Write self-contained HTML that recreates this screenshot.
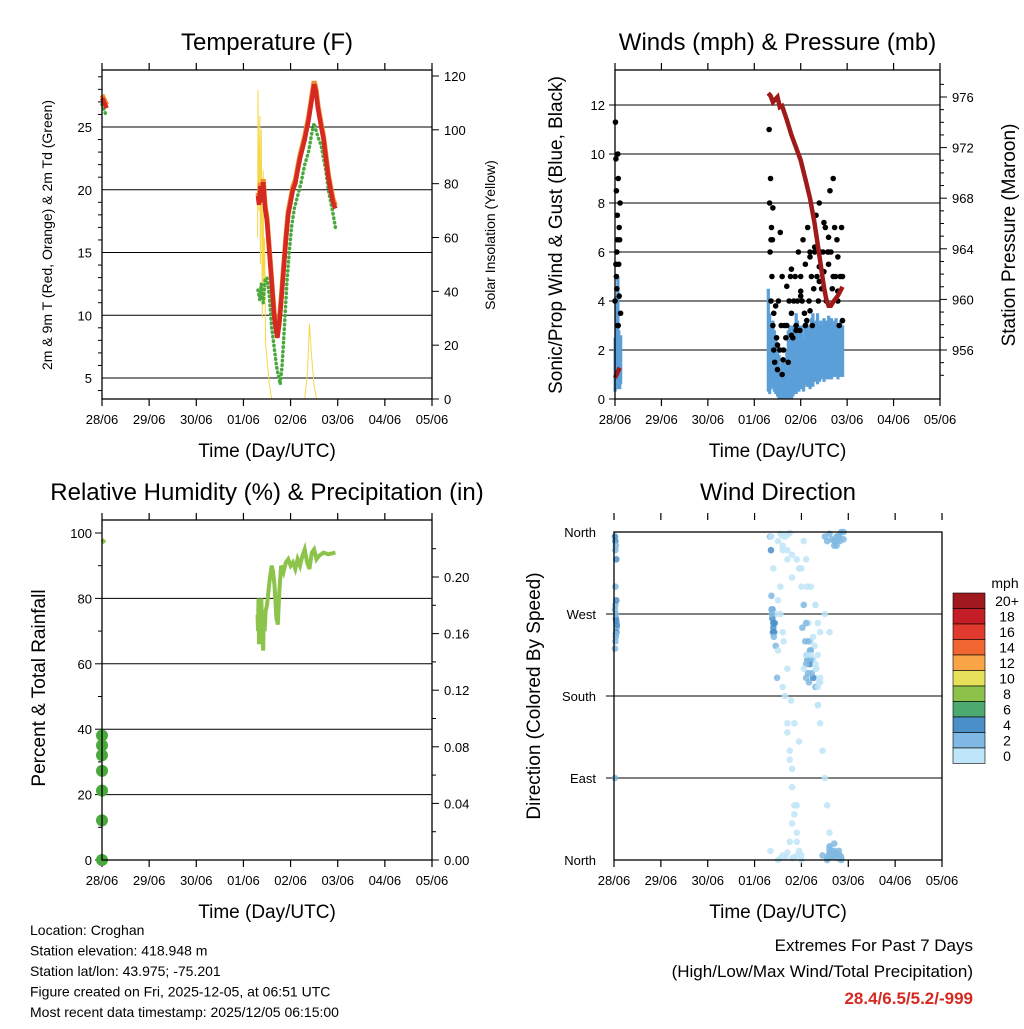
<!DOCTYPE html>
<html><head><meta charset="utf-8">
<style>
body{margin:0;background:#fff;font-family:"Liberation Sans",sans-serif;}
svg text{font-family:"Liberation Sans",sans-serif;fill:#000;}
</style></head>
<body>
<svg id="c" width="1024" height="1024" viewBox="0 0 1024 1024">
<rect width="1024" height="1024" fill="#fff"/>
</svg>
<script>
// ---- Temperature panel data (t = days since 28/06 00Z) ----
const tempT=[0,0.05,0.1,null,3.31,3.33,3.36,3.39,3.42,3.46,3.5,3.54,3.58,3.62,3.65,3.69,3.72,3.76,3.8,3.85,3.9,3.95,4.0,4.05,4.1,4.15,4.2,4.3,4.38,4.45,4.5,4.54,4.58,4.65,4.7,4.75,4.8,4.85,4.9,4.95];
const tempV=[27.3,26.9,26.5,null,19.5,18.8,20.3,19,20.6,18.5,17.5,15.5,13.5,11.5,10,8.8,8.2,9.3,11,13.5,16,18,19,20,20.5,21.5,22.5,24,25.5,27.2,28.4,27.8,26.5,25,24,22.5,21,20,19,18.5];
const tdT=[0,0.05,0.1,null,3.31,3.35,3.38,3.42,3.46,3.5,3.55,3.6,3.65,3.7,3.75,3.78,3.82,3.87,3.92,3.97,4.02,4.08,4.15,4.22,4.3,4.38,4.45,4.5,4.55,4.6,4.65,4.7,4.75,4.8,4.88,4.95];
const tdV=[26.8,26.3,25.8,null,12,11.2,12.5,11,12.8,13,11.5,9,7.5,6,5,4.5,6,9,12.5,15,17,18.5,19.5,20.5,22,23,24.5,25.3,24.6,24,23.5,22.5,21.5,20,18.5,17];
const solT=[3.3,3.31,3.33,3.35,3.36,3.38,3.4,3.42,3.43,3.45,3.47,3.5,3.55,3.6,null,4.3,4.36,4.4,4.45,4.5,4.55];
const solV=[60,115,70,105,50,100,30,85,40,60,20,15,5,0,null,0,10,28,15,5,0];
// ---- Winds panel ----
const presT=[0,0.05,0.1,null,3.3,3.35,3.4,3.45,3.5,3.55,3.6,3.7,3.8,3.9,4.0,4.1,4.2,4.3,4.4,4.5,4.55,4.6,4.65,4.7,4.8,4.9];
const presV=[953.8,954.2,954.6,null,976.3,976.1,975.6,975.8,976,975.2,975.3,974.2,973,972,971,969.5,968,966,963.5,961,960,959.5,959.5,959.8,960.3,961];
const gustT=[0,0.01,0.02,0.03,0.04,0.05,0.06,0.07,0.08,0.09,0.1,0.11,0.12,0.03,0.05,0.07,0.09,0.02,0.04,0.06,3.32,3.33,3.34,3.35,3.36,3.37,3.38,3.39,3.4,3.42,3.44,3.46,3.48,3.5,3.52,3.55,3.58,3.6,3.63,3.65,3.68,3.7,3.73,3.75,3.78,3.8,3.83,3.85,3.88,3.9,3.93,3.95,3.98,4.0,4.03,4.05,4.08,4.1,4.13,4.15,4.18,4.2,4.23,4.25,4.28,4.3,4.33,4.35,4.38,4.4,4.43,4.45,4.48,4.5,4.53,4.55,4.58,4.6,4.63,4.65,4.68,4.7,4.73,4.75,4.78,4.8,4.83,4.85,4.88,4.9,3.36,3.42,3.5,3.56,3.62,3.7,3.8,3.9,4.0,4.1,4.2,4.3,4.4,4.5,4.6,4.7,4.8,4.9,3.4,3.6,3.8,4.0,4.2,4.4,4.6,4.8];
const gustV=[4,11.3,9.8,8.5,6,7.5,10,3,5.5,4.2,6.5,8,3.5,5,6.5,9,7,5.5,4.5,3,11,8,6,9,4,7,5,6.5,3,2,1.5,3.8,2.5,1.2,4,2,3,1,2,3,2.5,3,1.5,4,5,3.5,2.5,4,5,3,4,6,2.8,5,4,6.5,3.5,5.5,3.2,7,4,6,5,3,4.5,6,7.5,5,4,8,6,4.5,6,5.2,7,4,6,5.5,8.5,6,4.5,9,7,5,6.5,4,3,5,7,5,6.5,3.5,2.2,6.8,1.6,4.6,5.3,2.8,4.2,3,5.8,6.2,4.8,7.2,6,5,4.4,3.2,7.8,5,2.6,4.4,3.6,5.4,6.6,5.8];
const sonT=[0,0.02,0.04,0.06,0.08,0.1,0.12,3.3,3.33,3.36,3.4,3.43,3.46,3.5,3.53,3.56,3.6,3.63,3.66,3.7,3.73,3.76,3.8,3.83,3.86,3.9,3.93,3.96,4.0,4.03,4.06,4.1,4.13,4.16,4.2,4.23,4.26,4.3,4.33,4.36,4.4,4.43,4.46,4.5,4.53,4.56,4.6,4.63,4.66,4.7,4.73,4.76,4.8,4.83,4.86,4.9];
const sonLo=[0.3,0.5,0.4,0.6,0.5,0.4,0.6,0.3,0.2,0.4,0.5,0.3,0.2,0.1,0,0,0,0,0,0,0,0,0,0.1,0.2,0.2,0.3,0.3,0.4,0.5,0.3,0.6,0.5,0.5,0.4,0.6,0.5,0.7,0.8,0.6,0.7,0.8,0.9,0.7,0.8,0.9,0.8,0.9,0.8,0.9,1,0.9,0.8,0.9,1,0.9];
const sonHi=[2.5,4.2,3,5,2.8,2.2,2.6,4.5,3.5,3,3.2,2.8,2.5,2.2,1.8,1.2,1.5,1.5,1.4,2,2.8,3,2.6,3,2.5,3.5,3.2,3,2.8,3,2.5,3,3.2,2.8,3,3.3,3.5,3,3.2,3.5,3,3.2,3,3.3,3,3.2,3.4,3.1,3.3,3,3.2,3.3,3.1,3,3.2,3];
// ---- RH panel ----
const rhT=[0,0.03,0.06,null,3.3,3.31,3.32,3.33,3.34,3.35,3.36,3.38,3.4,3.42,3.43,3.45,3.47,3.5,3.53,3.56,3.6,3.63,3.66,3.7,3.73,3.76,3.8,3.85,3.9,3.95,4.0,4.05,4.1,4.15,4.2,4.25,4.3,4.35,4.4,4.45,4.5,4.55,4.6,4.7,4.8,4.95];
const rhV=[98,97.5,97,null,75,70,80,66,78,72,68,80,70,64,74,70,76,78,82,86,90,88,84,74,72,82,90,88,91,92,90,91,89,92,90,93,95,91,89,94,95,92,93,94,93.5,94];
const rainV=[0,0.028,0.049,0.063,0.074,0.081,0.088];
// ---- Wind direction panel ----
const dirT=[0.02,0.03,0.04,0.05,0.03,0.02,0.04,0.06,0.05,0.03,0.02,0.04,0.02,0.03,0.05,0.06,0.04,0.03,0.05,0.04,
3.33,3.35,3.36,3.38,3.4,3.42,3.45,3.48,3.5,3.55,3.6,3.65,3.7,3.75,3.8,3.85,3.9,3.95,4.0,4.05,4.1,4.12,4.15,4.2,4.25,4.3,4.35,
3.34,3.36,3.4,3.45,3.5,3.6,3.7,3.75,3.8,3.85,3.9,4.0,4.05,4.1,4.15,4.2,4.25,4.3,4.35,4.4,4.45,4.5,4.55,4.6,4.65,4.7,4.75,4.8,4.82,4.9,4.45,4.55,4.6,4.7,4.75,4.85,4.5,4.6,
3.36,3.38,3.4,3.37,3.39,3.41,3.43,3.5,3.55,3.62,3.7,3.78,3.85,3.95,4.02,4.08,4.12,4.18,4.22,4.28,4.32,4.38,4.1,4.15,4.2,4.25,4.3,4.35,4.4,4.1,4.12,4.14,4.16,4.18,4.05,4.1,
3.55,3.6,3.65,3.7,3.75,3.8,3.85,3.9,3.6,3.7,3.8,3.9,4.0,4.2,4.3,4.35,4.4,4.2,4.3,4.4,
4.5,4.55,4.6,4.65,4.7,4.75,4.8,4.85,4.9,4.58,4.62,4.68,4.72,4.78,4.84,4.6,4.7,4.8,4.55,4.65,4.75,4.85,4.6,4.7,4.8,
3.5,3.55,3.6,3.65,3.7,3.75,3.8,3.9,3.6,3.7,3.8,3.95,4.0,4.3,4.35];
const dirD=[355,350,345,330,280,275,265,255,250,240,232,248,90,300,262,258,270,340,285,245,
355,340,290,275,260,250,235,200,350,300,250,180,150,120,100,60,30,10,5,350,330,300,260,240,220,200,170,
10,355,320,270,230,190,140,110,80,50,20,0,280,260,240,220,200,190,170,150,120,90,60,30,10,5,345,355,350,360,5,2,8,350,355,0,270,250,
275,265,255,270,250,245,260,285,270,240,210,175,150,130,255,240,225,215,205,235,210,195,200,220,230,245,210,225,200,215,220,205,195,230,210,225,
358,356,355,357,359,2,3,5,345,340,335,330,320,300,280,260,250,225,215,195,
355,350,358,352,345,350,356,360,352,5,8,3,6,2,4,12,10,6,0,3,8,2,15,18,10,
0,2,5,3,8,20,40,60,340,330,310,320,300,280,190];
const dirS=[4,5,3,4,3,2,4,3,4,3,2,3,2,3,4,5,3,3,4,2,
3,4,3,4,5,4,3,2,1,1,1,1,1,1,1,1,1,1,1,1,1,1,1,1,1,1,1,
1,1,1,1,1,1,1,1,1,1,1,1,2,3,3,3,4,2,1,1,1,1,1,1,1,3,3,3,3,3,3,3,3,3,3,3,1,1,
3,4,4,3,5,3,4,1,1,1,1,1,1,1,3,3,3,4,3,1,1,1,3,3,2,1,1,1,1,3,3,3,2,3,1,1,
1,1,1,1,1,1,1,1,1,1,1,1,1,1,1,1,1,1,1,1,
3,3,3,3,3,3,3,3,3,3,3,3,3,3,3,3,3,3,3,3,3,3,3,3,3,
1,1,1,1,1,1,1,1,1,1,1,1,1,1,1];
const xLabels=["28/06","29/06","30/06","01/06","02/06","03/06","04/06","05/06"];
const cbColors=["#a0191e","#c41d26","#e03a2f","#f06530","#f9a445","#e7e05a","#8cc14a","#4caa6e","#4a8fc8","#7fb8e2","#bfe5f8"];
const cbLabels=["20+","18","16","14","12","10","8","6","4","2","0"];

const S=document.getElementById('c');const NS="http://www.w3.org/2000/svg";
function el(tag,a,parent){const e=document.createElementNS(NS,tag);for(const k in a)e.setAttribute(k,a[k]);(parent||S).appendChild(e);return e;}
function txt(x,y,s,size,anchor,rot,extra){const t=el('text',Object.assign({x:x,y:y,'font-size':size,'text-anchor':anchor||'middle'},extra||{}));if(rot)t.setAttribute('transform','rotate(-90 '+x+' '+y+')');t.textContent=s;return t;}
function lin(d0,d1,p0,p1){return v=>p0+(v-d0)*(p1-p0)/(d1-d0);}
function pathFrom(T,V,fx,fy){let d="",m=true;for(let i=0;i<T.length;i++){if(T[i]===null){m=true;continue;}d+=(m?"M":"L")+fx(T[i]).toFixed(1)+","+fy(V[i]).toFixed(1);m=false;}return d;}

function frame(g,x0,x1,y0,y1,title,xt,yt,fx){
  const t=txt((x0+x1)/2,y0-20,title,24);
  for(let i=0;i<8;i++){const x=fx(i);el('line',{x1:x,x2:x,y1:y1,y2:y1+7,stroke:'#000','stroke-width':1.2},g);el('line',{x1:x,x2:x,y1:y0,y2:y0-7,stroke:'#000','stroke-width':1.2},g);
    const l=txt(x,y1+25,xLabels[i],13,'middle',0,{});}
  const a=txt((x0+x1)/2,y1+58,xt,19);
}
function box(g,x0,x1,y0,y1){el('rect',{x:x0,y:y0,width:x1-x0,height:y1-y0,fill:'none',stroke:'#000','stroke-width':1.3},g);}

// ===== Panel 1: Temperature =====
(function(){
const g=el('g',{});
const x0=102,x1=432,y0=70,y1=399;const fx=lin(0,7,x0,x1),fy=lin(5,25,378,127),fs=lin(0,120,399,76);
[5,10,15,20,25].forEach(v=>{el('line',{x1:x0,x2:x1,y1:fy(v),y2:fy(v),stroke:'#000','stroke-width':1},g);txt(x0-10,fy(v)+5,String(v),13,'end');});
for(let v=4;v<=29;v++){if(v%5)el('line',{x1:x0,x2:x0-4,y1:fy(v),y2:fy(v),stroke:'#000'},g);}
[0,20,40,60,80,100,120].forEach(v=>{el('line',{x1:x1,x2:x1+7,y1:fs(v),y2:fs(v),stroke:'#000'},g);txt(x1+12,fs(v)+5,String(v),13,'start');});
frame(g,x0,x1,y0,y1,'Temperature (F)','Time (Day/UTC)','',fx);
const yl=txt(52,235,'2m & 9m T (Red, Orange) & 2m Td (Green)',14,'middle',1);
const yr=txt(495,235,'Solar Insolation (Yellow)',14,'middle',1);
const sp=el('path',{d:pathFrom(solT,solV,fx,fs),fill:'none',stroke:'#f5d84a','stroke-width':1},g);
const tdp=el('path',{d:pathFrom(tdT,tdV,fx,fy),fill:'none',stroke:'#4aa83e','stroke-width':3.5,'stroke-dasharray':'0.5 4','stroke-linecap':'round'},g);
const op=el('path',{d:pathFrom(tempT,tempV.map(v=>v===null?null:v+0.25),fx,fy),fill:'none',stroke:'#f28a30','stroke-width':5},g);
const tp=el('path',{d:pathFrom(tempT,tempV,fx,fy),fill:'none',stroke:'#d42a22','stroke-width':4.5},g);
box(g,x0,x1,y0,y1);
})();

// ===== Panel 2: Winds =====
(function(){
const g=el('g',{});
const x0=615,x1=940,y0=70,y1=399;const fx=lin(0,7,x0,x1),fy=lin(0,12,399,105),fp=lin(956,976,350,97);
[2,4,6,8,10,12].forEach(v=>el('line',{x1:x0,x2:x1,y1:fy(v),y2:fy(v),stroke:'#000'},g));
[0,2,4,6,8,10,12].forEach(v=>{el('line',{x1:x0,x2:x0-6,y1:fy(v),y2:fy(v),stroke:'#000'},g);txt(x0-10,fy(v)+5,String(v),13,'end');});
for(let v=954;v<=977;v++){el('line',{x1:x1,x2:x1+(v%4?4:7),y1:fp(v),y2:fp(v),stroke:'#000'},g);if(v%4==0)txt(x1+12,fp(v)+5,String(v),13,'start');}
frame(g,x0,x1,y0,y1,'Winds (mph) & Pressure (mb)','Time (Day/UTC)','',fx);
const yl=txt(562,235,'Sonic/Prop Wind & Gust (Blue, Black)',19,'middle',1);
const yr=txt(1015,235,'Station Pressure (Maroon)',19,'middle',1);
sonT.forEach((t,i)=>{const r=el('rect',{x:fx(t)-1.5,y:fy(sonHi[i]),width:3.2,height:fy(sonLo[i])-fy(sonHi[i]),fill:'#5b9fd8'},g);});
gustT.forEach((t,i)=>{const c=el('circle',{cx:fx(t),cy:fy(gustV[i]),r:2.8,fill:'#000'},g);});
const pp=el('path',{d:pathFrom(presT,presV,fx,fp),fill:'none',stroke:'#a01a1a','stroke-width':4.5},g);
box(g,x0,x1,y0,y1);
})();

// ===== Panel 3: RH =====
(function(){
const g=el('g',{});
const x0=102,x1=432,y0=520,y1=860;const fx=lin(0,7,x0,x1),fy=lin(0,100,860,533),fr=lin(0,0.2,860,577);
[20,40,60,80].forEach(v=>el('line',{x1:x0,x2:x1,y1:fy(v),y2:fy(v),stroke:'#000'},g));
for(let v=0;v<=100;v+=10){el('line',{x1:x0,x2:x0-(v%20?4:7),y1:fy(v),y2:fy(v),stroke:'#000'},g);if(v%20==0)txt(x0-10,fy(v)+5,String(v),13,'end');}
for(let v=0;v<=0.22;v+=0.02){el('line',{x1:x1,x2:x1+(Math.round(v*100)%4?4:7),y1:fr(v),y2:fr(v),stroke:'#000'},g);if(Math.round(v*100)%4==0)txt(x1+12,fr(v)+5,v.toFixed(2),13,'start');}
frame(g,x0,x1,y0,y1,'Relative Humidity (%) & Precipitation (in)','Time (Day/UTC)','',fx);
const yl=txt(45,688,'Percent & Total Rainfall',19,'middle',1);
const rp=el('path',{d:pathFrom(rhT,rhV,fx,fy),fill:'none',stroke:'#8cc34a','stroke-width':4},g);
rainV.forEach(v=>{const c=el('circle',{cx:fx(0),cy:fr(v),r:6,fill:'#4aa83e'},g);});
box(g,x0,x1,y0,y1);
})();

// ===== Panel 4: Wind direction =====
(function(){
const g=el('g',{});
const x0=614,x1=942,y0=532,y1=860;const fx=lin(0,7,x0,x1),fy=lin(0,360,860,532);
[90,180,270].forEach(v=>el('line',{x1:x0-8,x2:x1,y1:fy(v),y2:fy(v),stroke:'#000'},g));
[[0,'North'],[90,'East'],[180,'South'],[270,'West'],[360,'North']].forEach(a=>txt(x0-18,fy(a[0])+5,a[1],13,'end'));
frame(g,x0,x1,y0-12,y1,'Wind Direction','Time (Day/UTC)','',fx);
const yl=txt(540,696,'Direction (Colored By Speed)',19,'middle',1);
dirT.forEach((t,i)=>{const ci=10-Math.min(10,Math.floor(dirS[i]/2));const c=el('circle',{cx:fx(t),cy:fy(dirD[i]),r:3.3,fill:cbColors[ci],'fill-opacity':0.85},g);});
box(g,x0,x1,y0,y1);
txt(1005,588,'mph',14);
cbColors.forEach((c,i)=>{const r=el('rect',{x:953,y:593+i*15.5,width:32,height:15.5,fill:c,stroke:'#000','stroke-width':0.6},g);txt(1007,606+i*15.5,cbLabels[i],14);});
})();

// ===== Footer text =====
const info=["Location: Croghan","Station elevation: 418.948 m","Station lat/lon: 43.975; -75.201","Figure created on Fri, 2025-12-05, at 06:51 UTC","Most recent data timestamp: 2025/12/05 06:15:00"];
info.forEach((s,i)=>{const t=txt(30,935+i*20.5,s,14,'start');});
txt(973,951,'Extremes For Past 7 Days',17,'end');
txt(973,977,'(High/Low/Max Wind/Total Precipitation)',17,'end');
const ex=txt(973,1004,'28.4/6.5/5.2/-999',17,'end',0,{'font-weight':'bold'});ex.style.fill='#d42a22';
</script>
</body></html>
